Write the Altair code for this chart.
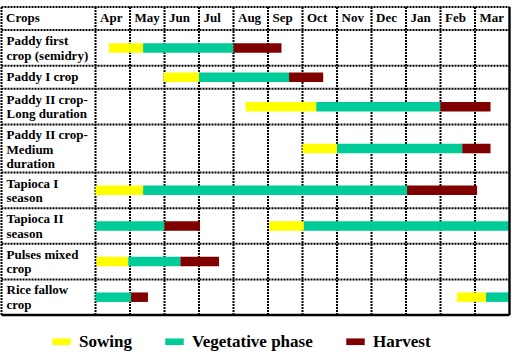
import altair as alt
import pandas as pd

# ---------------- data ----------------
months = ["Apr", "May", "Jun", "Jul", "Aug", "Sep", "Oct", "Nov", "Dec", "Jan", "Feb", "Mar"]
header_label = "Crops"
crops = [
    "Paddy first\ncrop (semidry)",
    "Paddy I crop",
    "Paddy II crop-\nLong duration",
    "Paddy II crop-\nMedium\nduration",
    "Tapioca I\nseason",
    "Tapioca II\nseason",
    "Pulses mixed\ncrop",
    "Rice fallow\ncrop",
]
phases = ["Sowing", "Vegetative phase", "Harvest"]
phase_colors = ["#FFFF00", "#00CC99", "#800000"]

# segments: crop index, phase, start / end in months from start of April
seg_crop = [0, 0, 0,
            1, 1, 1,
            2, 2, 2,
            3, 3, 3,
            4, 4, 4,
            5, 5, 5, 5,
            6, 6, 6,
            7, 7, 7, 7]
seg_phase = ["Sowing", "Vegetative phase", "Harvest",
             "Sowing", "Vegetative phase", "Harvest",
             "Sowing", "Vegetative phase", "Harvest",
             "Sowing", "Vegetative phase", "Harvest",
             "Sowing", "Vegetative phase", "Harvest",
             "Vegetative phase", "Harvest", "Sowing", "Vegetative phase",
             "Sowing", "Vegetative phase", "Harvest",
             "Vegetative phase", "Harvest", "Sowing", "Vegetative phase"]
seg_start = [0.39, 1.38, 4.00,
             1.97, 3.00, 5.61,
             4.35, 6.40, 10.00,
             6.00, 7.00, 10.63,
             0.00, 1.38, 9.03,
             0.00, 2.00, 5.03, 6.04,
             0.03, 0.95, 2.46,
             0.00, 1.03, 10.48, 11.32]
seg_end = [1.38, 4.00, 5.39,
           3.00, 5.61, 6.60,
           6.40, 10.00, 11.45,
           7.00, 10.63, 11.45,
           1.38, 9.03, 11.06,
           2.00, 3.03, 6.04, 12.00,
           0.95, 2.46, 3.58,
           1.03, 1.52, 11.32, 12.00]

# ---------------- layout helpers ----------------
LABEL_W = 2.725      # width of the crop-name column, in month units
LINE_PAD = 0.85      # extra row height (in text-line units) per row
N = len(months)

lines = [c.count("\n") + 1 for c in crops]
header_units = 1 + LINE_PAD
row_units = [n + LINE_PAD for n in lines]
tops = []
acc = header_units
for u in row_units:
    tops.append(acc)
    acc += u
total = acc
bounds = [0.0, header_units] + [t + u for t, u in zip(tops, row_units)]

rows_df = pd.DataFrame({
    "label": crops,
    "x": [-LABEL_W] * len(crops),
    "top": tops,
})
seg_df = pd.DataFrame({
    "phase": seg_phase,
    "start": seg_start,
    "end": seg_end,
    "center": [tops[i] + row_units[i] / 2 for i in seg_crop],
})
head_df = pd.DataFrame({
    "label": [header_label] + months,
    "x": [-LABEL_W] + list(range(N)),
    "top": [0.0] * (N + 1),
})
vdot_df = pd.DataFrame({"x": [-LABEL_W] + list(range(N))})
vdot_df["y0"] = 0.0
vdot_df["y1"] = total
vsolid_df = pd.DataFrame({"x": [float(N)], "y0": [0.0], "y1": [total]})
hdot_df = pd.DataFrame({"y": bounds[:-1]})
hdot_df["x0"] = -LABEL_W
hdot_df["x1"] = float(N)
hsolid_df = pd.DataFrame({"y": [bounds[-1]], "x0": [-LABEL_W], "x1": [float(N)]})

xs = alt.Scale(domain=[-LABEL_W, N], nice=False, zero=False)
ys = alt.Scale(domain=[0, total], reverse=True, nice=False, zero=False)
FONT = "Liberation Serif, Times New Roman, serif"

vdot = alt.Chart(vdot_df).mark_rule(color="black", strokeWidth=2, strokeDash=[2, 1]).encode(
    x=alt.X("x:Q", scale=xs, axis=None),
    y=alt.Y("y0:Q", scale=ys, axis=None), y2="y1:Q",
)
vsolid = alt.Chart(vsolid_df).mark_rule(color="black", strokeWidth=2.4).encode(
    x=alt.X("x:Q", scale=xs, axis=None),
    y=alt.Y("y0:Q", scale=ys, axis=None), y2="y1:Q",
)
hdot = alt.Chart(hdot_df).mark_rule(color="black", strokeWidth=2, strokeDash=[2, 1]).encode(
    y=alt.Y("y:Q", scale=ys, axis=None),
    x=alt.X("x0:Q", scale=xs, axis=None), x2="x1:Q",
)
hsolid = alt.Chart(hsolid_df).mark_rule(color="black", strokeWidth=2.6).encode(
    y=alt.Y("y:Q", scale=ys, axis=None),
    x=alt.X("x0:Q", scale=xs, axis=None), x2="x1:Q",
)

bars = alt.Chart(seg_df).mark_bar(size=9.5, strokeWidth=0, opacity=1).encode(
    x=alt.X("start:Q", scale=xs, axis=None),
    x2="end:Q",
    y=alt.Y("center:Q", scale=ys, axis=None),
    color=alt.Color(
        "phase:N",
        scale=alt.Scale(domain=phases, range=phase_colors),
        legend=alt.Legend(
            title=None, orient="none", legendX=50.5, legendY=330,
            direction="horizontal",
            symbolType="M-1,-0.36H1V0.36H-1Z", symbolSize=342,
            symbolStrokeWidth=0, symbolOpacity=1,
            labelFont=FONT, labelFontWeight="bold", labelFontSize=17,
            labelColor="black", labelOffset=8, columnPadding=33,
        ),
    ),
)

row_text = alt.Chart(rows_df).mark_text(
    align="left", baseline="alphabetic", dx=5, dy=15, lineBreak="\n", lineHeight=14.5,
    font=FONT, fontWeight="bold", fontSize=13, color="black",
).encode(
    x=alt.X("x:Q", scale=xs, axis=None),
    y=alt.Y("top:Q", scale=ys, axis=None),
    text="label:N",
)
head_text = alt.Chart(head_df).mark_text(
    align="left", baseline="alphabetic", dx=4.5, dy=15,
    font=FONT, fontWeight="bold", fontSize=13, color="black",
).encode(
    x=alt.X("x:Q", scale=xs, axis=None),
    y=alt.Y("top:Q", scale=ys, axis=None),
    text="label:N",
)

chart = alt.layer(vdot, hdot, bars, vsolid, hsolid, row_text, head_text).properties(
    width=508, height=318,
    padding={"left": 1.5, "top": 2, "right": 2.5, "bottom": 35},
    autosize=alt.AutoSizeParams(type="none"),
    background="white",
).configure_view(stroke=None)

chart.save("out.html", embed_options={"renderer": "svg", "actions": False})
